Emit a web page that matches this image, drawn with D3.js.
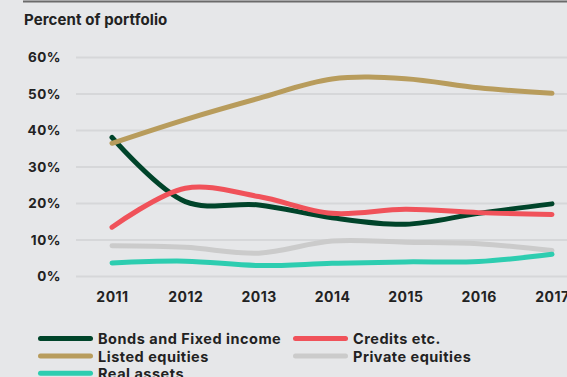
<!DOCTYPE html>
<html><head><meta charset="utf-8">
<script src="https://cdn.jsdelivr.net/npm/d3@7"></script>
<style>
html,body{margin:0;padding:0;background:#e6e7e9;}
svg{display:block;font-family:Inter,"Noto Sans",sans-serif;}
</style></head>
<body><svg id="c" width="567" height="377"></svg>
<script>
const years = ["2011","2012","2013","2014","2015","2016","2017"];
const yTicks = [0,10,20,30,40,50,60];
const seriesNames = ["Bonds and Fixed income","Credits etc.","Listed equities","Private equities","Real assets"];
const bonds    = [38.1, 20.5, 19.6, 16.1, 14.3, 17.3, 19.9];
const credits  = [13.5, 24.2, 21.9, 17.3, 18.4, 17.5, 17.0];
const listed   = [36.5, 43.0, 48.8, 54.1, 54.2, 51.7, 50.2];
const privateEq= [8.4, 8.0, 6.4, 9.7, 9.4, 9.0, 7.1];
const realA    = [3.7, 4.2, 3.0, 3.6, 4.0, 4.1, 6.1];
const colors = ["#00442a","#f0525a","#b89c5c","#cbcbcb","#2dcdb0"];
const values = [bonds, credits, listed, privateEq, realA];

const svg = d3.select("#c");
const W = 567;
const ink = "#222";
// top rule
svg.append("rect").attr("x",23).attr("y",0.5).attr("width",W-23).attr("height",2).attr("fill","#6b6b6b");
svg.append("text").attr("x",24).attr("y",25.3).attr("font-size",15).attr("font-weight",700)
  .attr("letter-spacing",0.1).attr("fill",ink).text("Percent of portfolio");

const y = d3.scaleLinear().domain([0,60]).range([276.5,57.5]);
const x = d3.scalePoint().domain(years).range([112,552]);

// grid
svg.append("g").selectAll("line").data(yTicks).join("line")
  .attr("x1",76).attr("x2",W).attr("y1",d=>y(d)).attr("y2",d=>y(d))
  .attr("stroke","#d6d7d9").attr("stroke-width",2);

// y axis labels
const yAx = svg.append("g").attr("transform","translate(61,0)")
  .call(d3.axisLeft(y).tickValues(yTicks).tickFormat(d=>d+"%").tickSize(0).tickPadding(0));
yAx.select(".domain").remove();
yAx.selectAll("text").attr("font-size",13.5).attr("font-weight",700).attr("fill",ink)
  .attr("letter-spacing",0.5).attr("font-family","Inter,'Noto Sans',sans-serif");

// x axis labels
const xAx = svg.append("g").attr("transform","translate(0,292)")
  .call(d3.axisBottom(x).tickSize(0).tickPadding(0));
xAx.select(".domain").remove();
xAx.selectAll("text").attr("font-size",14).attr("font-weight",700).attr("fill",ink)
  .attr("letter-spacing",0.5).attr("font-family","Inter,'Noto Sans',sans-serif");

const line = d3.line().x((d,i)=>x(years[i])).y(d=>y(d)).curve(d3.curveCatmullRom.alpha(0.5));
svg.append("g").selectAll("path").data(values).join("path")
  .attr("d",d=>line(d)).attr("fill","none").attr("stroke",(d,i)=>colors[i])
  .attr("stroke-width",5).attr("stroke-linecap","round").attr("stroke-linejoin","round");

// legend
const legPos = [[38,338.5],[293,338.5],[38,356],[293,356],[38,373.3]];
const lg = svg.append("g").selectAll("g").data(seriesNames).join("g")
  .attr("transform",(d,i)=>`translate(${legPos[i][0]},${legPos[i][1]})`);
lg.append("line").attr("x1",2.5).attr("x2",52.5).attr("stroke",(d,i)=>colors[i])
  .attr("stroke-width",5).attr("stroke-linecap","round");
lg.append("text").attr("x",60).attr("y",5.5).attr("font-size",14.5).attr("font-weight",700)
  .attr("letter-spacing",0.5).attr("fill",ink).text(d=>d);
</script></body></html>
